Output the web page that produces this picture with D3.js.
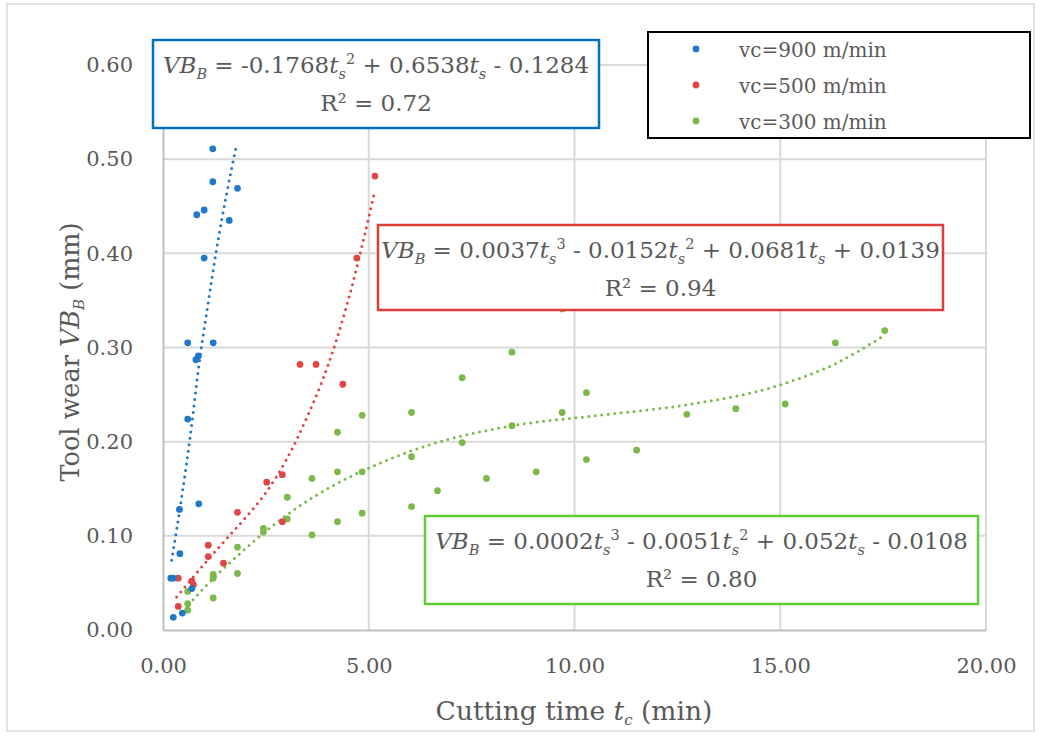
<!DOCTYPE html>
<html>
<head>
<meta charset="utf-8">
<script src="https://cdn.jsdelivr.net/npm/d3@7"></script>
<style>
  body { margin: 0; background: #fff; }
  text { font-family: "DejaVu Serif", "Liberation Serif", serif; fill: #595959; }
</style>
</head>
<body>
<div id="chart"></div>
<script>
//===============================
//  Data
//===============================

var seriesNames = ["vc=900 m/min", "vc=500 m/min", "vc=300 m/min"];
var seriesColors = ["#1f78c8", "#e04646", "#7cb94a"];

// vc=900 m/min
var blueT = [1.21, 1.21, 1.81, 0.82, 1.00, 1.61, 1.00, 0.60, 1.22, 0.80, 0.86, 0.60, 0.40, 0.87, 0.41, 0.19, 0.25, 0.70, 0.47, 0.25];
var blueV = [0.511, 0.476, 0.469, 0.441, 0.446, 0.435, 0.395, 0.305, 0.305, 0.287, 0.291, 0.224, 0.128, 0.134, 0.081, 0.055, 0.055, 0.044, 0.018, 0.0135];

// vc=500 m/min
var redT = [0.37, 0.37, 0.70, 0.74, 1.10, 1.10, 1.47, 1.81, 2.52, 2.90, 2.90, 3.33, 3.72, 4.37, 4.71, 5.15];
var redV = [0.055, 0.025, 0.052, 0.048, 0.090, 0.078, 0.071, 0.125, 0.157, 0.165, 0.115, 0.282, 0.282, 0.261, 0.395, 0.482];

// vc=300 m/min
var greenT = [0.60, 0.60, 0.60, 1.22, 1.22, 1.22, 1.81, 1.81, 2.44, 2.44, 3.02, 3.02, 3.62, 3.62, 4.24, 4.24, 4.24,
              4.84, 4.84, 4.84, 6.04, 6.04, 6.04, 6.67, 7.27, 7.27, 7.86, 8.48, 8.48, 9.07, 9.70, 9.70, 10.29, 10.29,
              11.51, 12.73, 13.92, 15.12, 16.34, 17.54];
var greenV = [0.041, 0.028, 0.021, 0.034, 0.059, 0.055, 0.088, 0.060, 0.108, 0.104, 0.141, 0.118, 0.161, 0.101, 0.210, 0.168, 0.115,
              0.228, 0.168, 0.124, 0.231, 0.184, 0.131, 0.148, 0.268, 0.199, 0.161, 0.295, 0.217, 0.168, 0.231, 0.341, 0.252, 0.181,
              0.191, 0.229, 0.235, 0.240, 0.305, 0.318];

// trend lines, points
var blueTrendT = [0.21, 0.45, 0.66, 0.90, 1.10, 1.30, 1.55, 1.79];
var blueTrendV = [0.074, 0.140, 0.205, 0.290, 0.348, 0.404, 0.464, 0.516];
var redTrendT = [0.33, 1.0, 1.63, 2.0, 2.5, 3.0, 3.5, 4.0, 4.5, 5.13];
var redTrendV = [0.035, 0.070, 0.101, 0.119, 0.146, 0.181, 0.226, 0.280, 0.350, 0.463];
var greenTrendT = [0.62, 1.3, 2.1, 3.0, 4.0, 5.0, 6.5, 8.5, 10.6, 12.7, 14.9, 16.3, 17.5];
var greenTrendV = [0.027, 0.058, 0.090, 0.122, 0.150, 0.172, 0.197, 0.217, 0.228, 0.239, 0.259, 0.282, 0.312];

var xTicks = [0, 5, 10, 15, 20];
var yTicks = [0, 0.1, 0.2, 0.3, 0.4, 0.5, 0.6];

// equation labels: [text, style] pieces
var blueEq = [["VB", "i"], ["B", "sub"], [" = -0.1768", ""], ["t", "i"], ["s", "sub"], ["2", "sup"], [" + 0.6538", ""], ["t", "i"], ["s", "sub"], [" - 0.1284", ""]];
var redEq = [["VB", "i"], ["B", "sub"], [" = 0.0037", ""], ["t", "i"], ["s", "sub"], ["3", "sup"], [" - 0.0152", ""], ["t", "i"], ["s", "sub"], ["2", "sup"],
             [" + 0.0681", ""], ["t", "i"], ["s", "sub"], [" + 0.0139", ""]];
var greenEq = [["VB", "i"], ["B", "sub"], [" = 0.0002", ""], ["t", "i"], ["s", "sub"], ["3", "sup"], [" - 0.0051", ""], ["t", "i"], ["s", "sub"], ["2", "sup"],
               [" + 0.052", ""], ["t", "i"], ["s", "sub"], [" - 0.0108", ""]];
var r2Labels = ["R² = 0.72", "R² = 0.94", "R² = 0.80"];

//===============================
//  Chart area
//===============================

var svgWidth = 1041;
var svgHeight = 738;

var svg = d3.select("#chart")
  .append("svg")
  .attr("width", svgWidth)
  .attr("height", svgHeight);

// outer chart border
svg.append("rect")
  .attr("x", 7).attr("y", 4)
  .attr("width", 1027).attr("height", 727)
  .attr("fill", "none")
  .attr("stroke", "#d9d9d9")
  .attr("stroke-width", 1.5);

var xScale = d3.scaleLinear().domain([0, 20]).range([163, 986]);
var yScale = d3.scaleLinear().domain([0, 0.6]).range([630, 65]);

//===============================
//  Grid and axes
//===============================

svg.append("g")
  .selectAll("line.h")
  .data(yTicks.slice(1))
  .enter().append("line")
  .attr("x1", xScale(0)).attr("x2", xScale(20))
  .attr("y1", d => yScale(d)).attr("y2", d => yScale(d))
  .attr("stroke", "#d9d9d9").attr("stroke-width", 2);

svg.append("g")
  .selectAll("line.v")
  .data(xTicks.slice(1))
  .enter().append("line")
  .attr("x1", d => xScale(d)).attr("x2", d => xScale(d))
  .attr("y1", yScale(0)).attr("y2", yScale(0.6))
  .attr("stroke", "#d9d9d9").attr("stroke-width", 2);

var xAxis = d3.axisBottom(xScale).tickValues(xTicks).tickFormat(d3.format(".2f")).tickSize(0).tickPadding(28);
var yAxis = d3.axisLeft(yScale).tickValues(yTicks).tickFormat(d3.format(".2f")).tickSize(0).tickPadding(30);

var gx = svg.append("g").attr("transform", `translate(0, ${yScale(0)})`).call(xAxis);
var gy = svg.append("g").attr("transform", `translate(${xScale(0)}, 0)`).call(yAxis);

[gx, gy].forEach(g => {
  g.select(".domain").attr("stroke", "#bfbfbf").attr("stroke-width", 2);
  g.selectAll("text")
    .attr("font-family", "DejaVu Serif")
    .attr("font-size", 21)
    .attr("fill", "#595959");
});

// axis titles
var xTitle = svg.append("text")
  .attr("x", 574).attr("y", 720)
  .attr("text-anchor", "middle")
  .attr("font-size", 26.5);
xTitle.append("tspan").text("Cutting time ");
xTitle.append("tspan").attr("font-style", "italic").text("t");
xTitle.append("tspan").attr("font-style", "italic").attr("font-size", 15).attr("dy", 5).text("c");
xTitle.append("tspan").attr("dy", -5).text(" (min)");

var yTitle = svg.append("text")
  .attr("transform", "translate(79, 352) rotate(-90)")
  .attr("text-anchor", "middle")
  .attr("font-size", 25.5);
yTitle.append("tspan").text("Tool wear ");
yTitle.append("tspan").attr("font-style", "italic").text("VB");
yTitle.append("tspan").attr("font-style", "italic").attr("font-size", 15).attr("dy", 5).text("B");
yTitle.append("tspan").attr("dy", -5).text(" (mm)");

//===============================
//  Trend lines and points
//===============================

var line = d3.line()
  .x(d => xScale(d[0]))
  .y(d => yScale(d[1]))
  .curve(d3.curveMonotoneX);

var trends = [d3.zip(blueTrendT, blueTrendV), d3.zip(redTrendT, redTrendV), d3.zip(greenTrendT, greenTrendV)];
var points = [d3.zip(blueT, blueV), d3.zip(redT, redV), d3.zip(greenT, greenV)];

// draw green first so blue sits on top
[2, 1, 0].forEach(i => {
  svg.append("g")
    .selectAll("circle")
    .data(points[i])
    .enter().append("circle")
    .attr("cx", d => xScale(d[0]))
    .attr("cy", d => yScale(d[1]))
    .attr("r", 3.4)
    .attr("fill", seriesColors[i]);

  svg.append("path")
    .datum(trends[i])
    .attr("d", line)
    .attr("fill", "none")
    .attr("stroke", seriesColors[i])
    .attr("stroke-width", 3)
    .attr("stroke-linecap", "round")
    .attr("stroke-dasharray", "0,6.5");
});

//===============================
//  Equation boxes
//===============================

function equationBox(box, eq, r2, color) {
  svg.append("rect")
    .attr("x", box.x).attr("y", box.y)
    .attr("width", box.w).attr("height", box.h)
    .attr("fill", "#fff")
    .attr("stroke", color)
    .attr("stroke-width", 2.5);

  var cx = box.x + box.w / 2;
  var t = svg.append("text")
    .attr("x", cx).attr("y", box.y + 33)
    .attr("text-anchor", "middle")
    .attr("font-size", 23);

  var shift = 0;
  eq.forEach(p => {
    var want = p[1] === "sub" ? 6 : (p[1] === "sup" ? -9 : 0);
    var span = t.append("tspan").text(p[0]).attr("dy", want - shift);
    if (p[1] === "i") span.attr("font-style", "italic");
    if (p[1] === "sub") span.attr("font-style", "italic").attr("font-size", 14.5);
    if (p[1] === "sup") span.attr("font-size", 14.5);
    shift = want;
  });

  svg.append("text")
    .attr("x", cx).attr("y", box.y + 71)
    .attr("text-anchor", "middle")
    .attr("font-size", 23)
    .text(r2);
}

equationBox({ x: 153, y: 40, w: 446, h: 88 }, blueEq, r2Labels[0], "#0070c0");
equationBox({ x: 378, y: 225, w: 565, h: 85 }, redEq, r2Labels[1], "#e03c3c");
equationBox({ x: 425, y: 516, w: 553, h: 88 }, greenEq, r2Labels[2], "#5fcc38");

//===============================
//  Legend
//===============================

var legend = svg.append("g");
legend.append("rect")
  .attr("x", 648).attr("y", 32)
  .attr("width", 382).attr("height", 106)
  .attr("fill", "#fff")
  .attr("stroke", "#000")
  .attr("stroke-width", 2);

seriesNames.forEach((name, i) => {
  legend.append("circle")
    .attr("cx", 696).attr("cy", 49 + i * 36)
    .attr("r", 3.4)
    .attr("fill", seriesColors[i]);
  legend.append("text")
    .attr("x", 739).attr("y", 57 + i * 36)
    .attr("font-size", 20)
    .text(name);
});
</script>
</body>
</html>
